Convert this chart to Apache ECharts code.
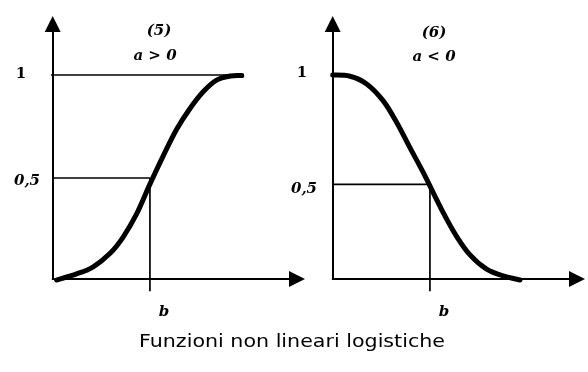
<!DOCTYPE html>
<html>
<head>
<meta charset="utf-8">
<script src="https://cdn.jsdelivr.net/npm/echarts@6/dist/echarts.min.js"></script>
<style>
  html, body { margin: 0; padding: 0; background: #fff; }
  #main { width: 588px; height: 372px; }
</style>
</head>
<body>
<div id="main"></div>
<script>
  // (5) a > 0 : curva crescente
  var upX = [0.16, 0.98, 1.66, 2.35, 2.89, 3.44, 3.98, 4.53, 5.08, 5.62, 6.16, 6.71, 7.26, 7.74];
  var upY = [-0.005, 0.025, 0.06, 0.126, 0.207, 0.32, 0.465, 0.605, 0.735, 0.836, 0.918, 0.975, 0.995, 0.997];
  // (6) a < 0 : curva decrescente
  var downX = [0, 0.71, 1.39, 2.07, 2.62, 3.16, 3.71, 4.53, 5.07, 5.62, 6.30, 6.98, 7.67];
  var downY = [1.0, 0.994, 0.956, 0.873, 0.767, 0.644, 0.521, 0.324, 0.209, 0.118, 0.048, 0.015, -0.005];

  // linee di riferimento
  var upB = 3.98, upHalf = 0.495, upOneFrom = -1.01, upOneTo = 7.76;
  var downB = 3.98, downHalfTo = 3.9, downHalf = 0.464;
  var belowAxis = -0.06;

  var panelTitles = ['(5)', '(6)'];
  var panelConds = ['a > 0', 'a < 0'];
  var tickOne = '1', tickHalf = '0,5', tickB = 'b';
  var mainTitle = 'Funzioni non lineari logistiche';

  var labelFont = 'italic bold 15px "DejaVu Serif"';
  var oneFont = 'bold 15px "DejaVu Serif"';

  function axisX(idx) {
    return {
      type: 'value', gridIndex: idx, min: 0, max: 10,
      axisLine: { show: true, symbol: ['none', 'triangle'], symbolSize: [16, 16],
        lineStyle: { color: '#000', width: 2 } },
      axisTick: { show: false }, axisLabel: { show: false }, splitLine: { show: false }
    };
  }
  function axisY(idx) {
    return {
      type: 'value', gridIndex: idx, min: 0, max: 1.25,
      axisLine: { show: true, symbol: ['none', 'triangle'], symbolSize: [16, 16],
        lineStyle: { color: '#000', width: 2 } },
      axisTick: { show: false }, axisLabel: { show: false }, splitLine: { show: false }
    };
  }
  function thin(idx, data) {
    return {
      type: 'line', xAxisIndex: idx, yAxisIndex: idx, data: data,
      showSymbol: false, clip: false, silent: true,
      lineStyle: { color: '#000', width: 1.7 }
    };
  }
  // curva spessa: spline catmull-rom sui punti letti, posizionati con api.coord
  function curve(idx, xs, ys) {
    return {
      type: 'custom', xAxisIndex: idx, yAxisIndex: idx, silent: true, clip: false,
      data: [[xs[0], ys[0]]],
      renderItem: function (params, api) {
        var p = [];
        for (var i = 0; i < xs.length; i++) p.push(api.coord([xs[i], ys[i]]));
        var d = 'M' + p[0][0] + ' ' + p[0][1];
        for (var k = 0; k < p.length - 1; k++) {
          var a = p[k - 1] || p[k], b = p[k], c = p[k + 1], e = p[k + 2] || p[k + 1];
          var c1x = b[0] + (c[0] - a[0]) / 6, c1y = b[1] + (c[1] - a[1]) / 6;
          var c2x = c[0] - (e[0] - b[0]) / 6, c2y = c[1] - (e[1] - b[1]) / 6;
          d += ' C' + c1x + ' ' + c1y + ' ' + c2x + ' ' + c2y + ' ' + c[0] + ' ' + c[1];
        }
        return {
          type: 'path', shape: { pathData: d },
          style: { stroke: '#000', lineWidth: 5, fill: null, lineCap: 'round', lineJoin: 'round' }
        };
      }
    };
  }
  function txt(x, y, s, font) {
    return { type: 'text', x: x, y: y,
      style: { text: s, font: font, fill: '#000', textAlign: 'center', textVerticalAlign: 'middle' } };
  }

  var chart = echarts.init(document.getElementById('main'));
  chart.setOption({
    animation: false,
    backgroundColor: '#fff',
    grid: [
      { left: 52.7, top: 24, width: 244.3, height: 255 },
      { left: 332.7, top: 24, width: 244.3, height: 255 }
    ],
    xAxis: [axisX(0), axisX(1)],
    yAxis: [axisY(0), axisY(1)],
    series: [
      thin(0, [[upOneFrom, 1], [upOneTo, 1]]),
      thin(0, [[0, upHalf], [upB, upHalf]]),
      thin(0, [[upB, upHalf], [upB, belowAxis]]),
      curve(0, upX, upY),
      thin(1, [[0, downHalf], [downHalfTo, downHalf]]),
      thin(1, [[downB, downHalf], [downB, belowAxis]]),
      curve(1, downX, downY)
    ],
    graphic: [
      txt(159, 31, panelTitles[0], labelFont),
      txt(155, 56, panelConds[0], labelFont),
      txt(434, 33, panelTitles[1], labelFont),
      txt(434, 57, panelConds[1], labelFont),
      txt(21, 74, tickOne, oneFont),
      txt(302, 73, tickOne, oneFont),
      txt(27, 181, tickHalf, labelFont),
      txt(304, 189, tickHalf, labelFont),
      txt(164, 312, tickB, labelFont),
      txt(444, 312, tickB, labelFont),
      { type: 'text', x: 292, y: 342, scaleX: 1.145, originX: 0, originY: 0,
        style: { text: mainTitle, font: '18px "DejaVu Sans"', fill: '#000',
          x: 0, y: 0, textAlign: 'center', textVerticalAlign: 'middle' } }
    ]
  });
</script>
</body>
</html>
